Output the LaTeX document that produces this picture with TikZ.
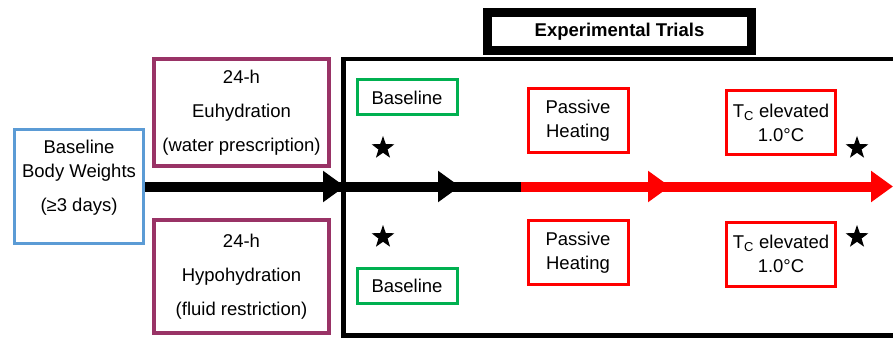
\documentclass[tikz,border=0pt]{standalone}
\usepackage{fontspec}
\setmainfont{Liberation Sans}
\usetikzlibrary{arrows.meta,shapes.geometric}
\definecolor{bwblue}{RGB}{91,155,213}
\definecolor{hydpurple}{RGB}{153,51,102}
\definecolor{basegreen}{RGB}{0,176,80}
\definecolor{heatred}{RGB}{255,0,0}

\begin{document}
\begin{tikzpicture}[x=1pt,y=-1pt,font=\fontsize{18.5}{24}\selectfont,
  bluebox/.style={draw=bwblue,line width=3pt,align=center,inner sep=0pt,
                  minimum width=129pt,minimum height=114pt},
  hydbox/.style={draw=hydpurple,line width=4pt,align=center,inner sep=0pt,
                 minimum width=175pt},
  basebox/.style={draw=basegreen,line width=3pt,inner sep=0pt,
                  minimum width=100pt,minimum height=35pt},
  heatbox/.style={draw=heatred,line width=3pt,align=center,inner sep=0pt,
                  minimum height=64pt},
  starmark/.style={star,star points=5,star point ratio=2.5,fill=black,
                   inner sep=0pt,minimum size=24pt},
  timeline/.style={line width=10pt},
  tlhead/.style={line width=10pt,-{Triangle[length=22pt,width=30pt]}}]
\useasboundingbox (0,0) rectangle (893,339);
\clip (0,0) rectangle (893,339);

% trials frame, open to the right
\draw[line width=4.5pt] (900,59) -- (343.5,59) -- (343.5,335.5) -- (900,335.5);
\node[draw,line width=9pt,minimum width=264pt,minimum height=38pt,inner sep=0pt,
      font=\fontsize{18.5}{24}\selectfont\bfseries] (trials) at (619.5,31.5) {Experimental Trials};

\node[bluebox] (bw) at (79,186.5) {Baseline\\Body Weights\\[10pt](≥3 days)\\[-3pt]\mbox{}};

\node[hydbox,minimum height=107pt] (euh) at (241.5,112.5) {24-h\\[10pt]Euhydration\\[10pt](water prescription)};
\node[hydbox,minimum height=113pt] (hypo) at (241.5,276.5) {24-h\\[10pt]Hypohydration\\[10pt](fluid restriction)};

\node[basebox] (baseA) at (407,97.5) {Baseline};
\node[basebox] (baseB) at (407,286) {Baseline};

\node[heatbox,minimum width=100pt] (heatA) at (578,121) {Passive\\Heating};
\node[heatbox,minimum width=109pt] (tcA) at (781,122.5) {T\textsubscript{C} elevated\\1.0°C};
\node[heatbox,minimum width=100pt] (heatB) at (578,252.5) {Passive\\Heating};
\node[heatbox,minimum width=109pt] (tcB) at (781,254) {T\textsubscript{C} elevated\\1.0°C};

\foreach\x/\y[count=\i] in {383/148,383/237,857/148,857/237}{\node[starmark] (star\i) at (\x,\y) {};};

% time line
\coordinate (t1) at (345,186.5);
\coordinate (t2) at (460,186.5);
\coordinate (t3) at (521,186.5);
\coordinate (t4) at (670,186.5);
\coordinate (t5) at (893,186.5);
\draw[timeline] (bw.east) -- (t3);
\draw[timeline,heatred] (t3) -- ([xshift=-20pt]t5);
\foreach\p/\c in {t1/black,t2/black,t4/heatred,t5/heatred}{\draw[tlhead,\c] ([xshift=-26pt]\p) -- (\p);};
\end{tikzpicture}
\end{document}
